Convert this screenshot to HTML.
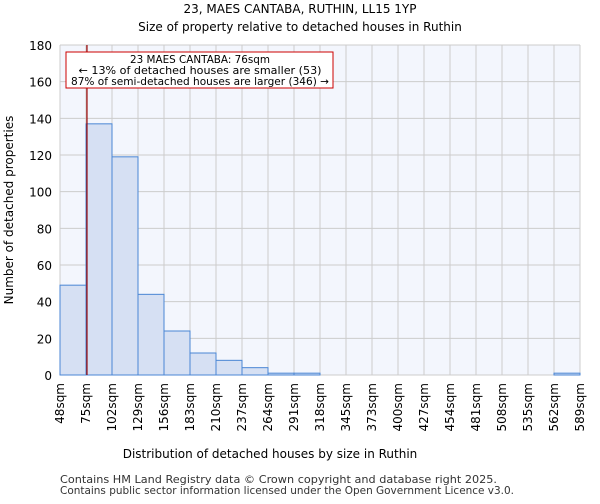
<!DOCTYPE html>
<html><head><meta charset="utf-8"><style>
body{margin:0;background:#fff;font-family:"DejaVu Sans","Liberation Sans",sans-serif;}
</style></head><body>
<svg width="600" height="500" xmlns="http://www.w3.org/2000/svg" font-family="DejaVu Sans, Liberation Sans, sans-serif">
<text x="300" y="13" text-anchor="middle" font-size="12">23, MAES CANTABA, RUTHIN, LL15 1YP</text>
<text x="300" y="31" text-anchor="middle" font-size="12">Size of property relative to detached houses in Ruthin</text>
<rect x="60" y="45" width="520" height="330" fill="#f3f6fd"/>
<g id="grid"></g>
<g id="bars"></g>
<g id="axes"></g>
<line id="marker" y1="45" y2="375" stroke="#990000" stroke-width="1.2"/>
<rect x="66" y="52" width="267" height="36" fill="#fff" stroke="#cc0000" stroke-width="1"/>
<text x="200" y="63" text-anchor="middle" font-size="10.5" textLength="140" lengthAdjust="spacingAndGlyphs">23 MAES CANTABA: 76sqm</text>
<text x="200" y="74" text-anchor="middle" font-size="10.5" textLength="243" lengthAdjust="spacingAndGlyphs">← 13% of detached houses are smaller (53)</text>
<text x="200" y="85" text-anchor="middle" font-size="10.5" textLength="258" lengthAdjust="spacingAndGlyphs">87% of semi-detached houses are larger (346) →</text>
<text x="270" y="458" text-anchor="middle" font-size="12">Distribution of detached houses by size in Ruthin</text>
<text transform="translate(13,210) rotate(-90)" text-anchor="middle" font-size="12">Number of detached properties</text>
<text x="60" y="483" font-size="10.5" fill="#333" textLength="437" lengthAdjust="spacingAndGlyphs">Contains HM Land Registry data © Crown copyright and database right 2025.</text>
<text x="60" y="494" font-size="10.5" fill="#333" textLength="454" lengthAdjust="spacingAndGlyphs">Contains public sector information licensed under the Open Government Licence v3.0.</text>
</svg>
<script>
const binLabels=["48sqm","75sqm","102sqm","129sqm","156sqm","183sqm","210sqm","237sqm","264sqm","291sqm","318sqm","345sqm","373sqm","400sqm","427sqm","454sqm","481sqm","508sqm","535sqm","562sqm","589sqm"];
const binStarts=[48,75,102,129,156,183,210,237,264,291,318,345,373,400,427,454,481,508,535,562,589];
const counts=[49,137,119,44,24,12,8,4,1,1,0,0,0,0,0,0,0,0,0,1];
const yTicks=[0,20,40,60,80,100,120,140,160,180];
const propertySize=76;
const NS="http://www.w3.org/2000/svg";
const x0=60,x1=580,y0=375,y1=45,yMax=180;
const bw=(x1-x0)/counts.length;
const xi=i=>x0+i*bw;
const xv=v=>{let i=0;while(i<binStarts.length-2&&v>=binStarts[i+1])i++;return xi(i)+(v-binStarts[i])/(binStarts[i+1]-binStarts[i])*bw;};
const y=v=>y0-(v/yMax)*(y0-y1);
function mk(t,a,p){const e=document.createElementNS(NS,t);for(const k in a)e.setAttribute(k,a[k]);p.appendChild(e);return e;}
const g=document.getElementById('grid'),b=document.getElementById('bars'),ax=document.getElementById('axes');
yTicks.forEach(t=>{
 const l=mk('line',{x1:x0,x2:x1,y1:y(t),y2:y(t),stroke:'#cccccc'},g);
 
 
 const tx=mk('text',{x:x0-8,y:y(t)+5,'text-anchor':'end','font-size':'12'},ax);tx.textContent=t;
 
 
});
binLabels.forEach((lab,i)=>{
 const X=xi(i);
 const l=mk('line',{x1:X,x2:X,y1:y1,y2:y0,stroke:'#cccccc'},g);
 
 
 const tx=mk('text',{transform:`translate(${X+4},${y0+8}) rotate(-90)`,'text-anchor':'end','font-size':'12'},ax);tx.textContent=lab;
 
 
});
counts.forEach((c,i)=>{
 if(c<=0)return;
 const r=mk('rect',{x:xi(i),y:y(c),width:bw,height:y0-y(c),fill:'#d6e0f3',stroke:'#4a86d4','stroke-width':1},b);
 
 
});
const m=document.getElementById('marker');const mx=xv(propertySize);m.setAttribute('x1',mx);m.setAttribute('x2',mx);
</script>
</body></html>
